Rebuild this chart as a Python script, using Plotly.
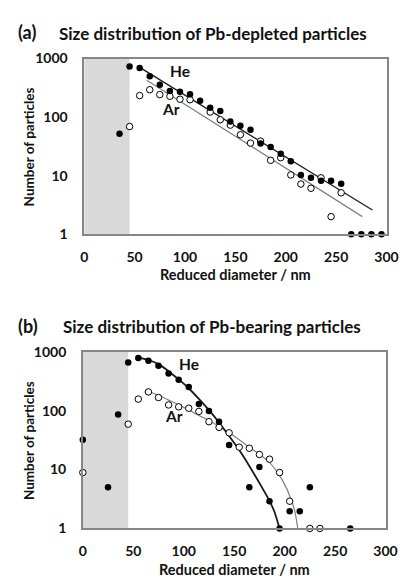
import plotly.graph_objects as go

W, H = 411, 585

# ---------------- data ----------------
# Panel (a): Pb-depleted particles
he_a_x = [35, 45, 55, 65, 75, 85, 95, 105, 115, 125, 135, 145, 155, 165, 175, 185, 195, 205, 215, 225, 235, 245, 255, 265, 275, 285, 295]
he_a_y = [52, 731, 686, 500, 355, 279, 271, 245, 190, 144, 127, 84, 71, 61, 35.6, 31, 23.7, 17.6, 10.3, 9.2, 8.2, 8.2, 7.3, 1, 1, 1, 1]
ar_a_x = [45, 55, 65, 75, 85, 95, 105, 125, 135, 145, 155, 165, 175, 185, 195, 205, 215, 225, 235, 245, 255]
ar_a_y = [69, 233, 293, 242, 227, 202, 198, 122, 90, 73, 50, 36, 39, 18.3, 20.3, 10.3, 7.2, 6.1, 9.2, 2.0, 5.1]
fit_he_a_x = [55, 286]
fit_he_a_y = [705, 2.6]
fit_ar_a_x = [62, 276]
fit_ar_a_y = [427, 2.0]

# Panel (b): Pb-bearing particles
he_b_x = [0, 25, 35, 45, 55, 65, 75, 85, 95, 105, 115, 125, 135, 145, 165, 175, 185, 195, 205, 215, 225, 265]
he_b_y = [32, 5, 86, 656, 784, 700, 579, 427, 336, 251, 130, 99, 65, 26, 5, 11, 2.9, 1, 1.95, 1.95, 5, 1]
ar_b_x = [0, 45, 55, 65, 75, 85, 95, 105, 115, 125, 135, 145, 155, 165, 175, 185, 195, 205, 225, 235]
ar_b_y = [8.9, 59, 157, 208, 167, 125, 116, 110, 97, 65, 52, 42, 24, 23, 18, 15, 8.9, 2.9, 1, 1]
fit_he_b_x = [55, 65, 75, 85, 95, 105, 115, 125, 135, 145, 155, 165, 175, 185, 190, 195]
fit_he_b_y = [794, 724, 617, 468, 339, 240, 158, 102, 63, 37, 21.4, 11.5, 5.9, 2.95, 1.9, 1.0]
fit_ar_b_x = [65, 75, 85, 95, 105, 115, 125, 135, 145, 155, 165, 175, 185, 195, 200, 205, 210, 213]
fit_ar_b_y = [214, 182, 151, 126, 102, 83, 68, 54, 42, 32, 24, 18.2, 13.2, 7.9, 5.6, 3.6, 2.0, 1.0]

x_ticks = [0, 50, 100, 150, 200, 250, 300]
y_ticks = [1, 10, 100, 1000]
y_tick_text = ["1", "10", "100", "1000"]
shade_end = 45

titles = ["Size distribution of Pb-depleted particles", "Size distribution of Pb-bearing particles"]
panel_labels = ["(a)", "(b)"]
x_title = "Reduced diameter / nm"
y_title = "Number of particles"

# ---------------- layout helpers ----------------
FONT = "Lato"
BLACK = "#000000"
GREY_LINE = "#808080"
AXIS_COL = "#868686"
TXT = "#111111"

def px_x(p):
    return p / W

def px_y(p):
    return 1 - p / H

panels = [
    dict(left=83.5, right=398, top=51, bottom=232, title_y=25, title_x=55, xlabel_y=273),
    dict(left=82, right=397, top=353, bottom=535, title_y=327, title_x=59, xlabel_y=577),
]

fig = go.Figure()

series = [
    (he_a_x, he_a_y, ar_a_x, ar_a_y, fit_he_a_x, fit_he_a_y, fit_ar_a_x, fit_ar_a_y, "x", "y"),
    (he_b_x, he_b_y, ar_b_x, ar_b_y, fit_he_b_x, fit_he_b_y, fit_ar_b_x, fit_ar_b_y, "x2", "y2"),
]

for i, (hx, hy, ax_, ay, fhx, fhy, fax, fay, xa, ya) in enumerate(series):
    fig.add_trace(go.Scatter(x=fax, y=fay, mode="lines", xaxis=xa, yaxis=ya,
                             line=dict(color=GREY_LINE, width=1.2, shape="spline", smoothing=0.5),
                             showlegend=False, hoverinfo="skip"))
    fig.add_trace(go.Scatter(x=fhx, y=fhy, mode="lines", xaxis=xa, yaxis=ya,
                             line=dict(color="#1a1a1a", width=1.3 if i == 0 else 1.8, shape="spline", smoothing=0.5),
                             showlegend=False, hoverinfo="skip"))
    fig.add_trace(go.Scatter(x=ax_, y=ay, mode="markers", xaxis=xa, yaxis=ya, cliponaxis=False,
                             marker=dict(size=6.5, color="white", line=dict(color=BLACK, width=1)),
                             showlegend=False))
    fig.add_trace(go.Scatter(x=hx, y=hy, mode="markers", xaxis=xa, yaxis=ya, cliponaxis=False,
                             marker=dict(size=6.5, color=BLACK, line=dict(color=BLACK, width=0)),
                             showlegend=False))

tickfont = dict(family=FONT, size=14, color=TXT, weight="bold")
layout = dict(
    width=W, height=H,
    margin=dict(l=0, r=0, t=0, b=0),
    paper_bgcolor="white", plot_bgcolor="white",
    showlegend=False,
    font=dict(family=FONT),
)

annotations = []
shapes = []
for i, p in enumerate(panels):
    sx = "" if i == 0 else "2"
    layout["xaxis" + sx] = dict(
        domain=[px_x(p["left"]), px_x(p["right"])],
        anchor="y" + sx, range=[0, 300], tickvals=x_ticks,
        showgrid=False, zeroline=False, showline=True, mirror=True,
        linecolor=AXIS_COL, linewidth=1.5,
        ticks="outside", ticklen=9, tickcolor="rgba(0,0,0,0)",
        tickfont=tickfont,
    )
    layout["yaxis" + sx] = dict(
        domain=[px_y(p["bottom"]), px_y(p["top"])],
        anchor="x" + sx, type="log", range=[0, 3],
        tickvals=y_ticks, ticktext=y_tick_text,
        showgrid=False, zeroline=False, showline=True, mirror=True,
        linecolor=AXIS_COL, linewidth=1.5,
        ticks="outside", ticklen=12, tickcolor="rgba(0,0,0,0)",
        tickfont=tickfont,
    )
    shapes.append(dict(type="rect", xref="x" + sx, yref="y" + sx + " domain",
                       x0=0, x1=shade_end, y0=0, y1=1, layer="below",
                       fillcolor="#d9d9d9", line=dict(width=0)))
    annotations.append(dict(text=panel_labels[i], xref="paper", yref="paper",
                            x=px_x(13), y=px_y(p["title_y"] - 1), xanchor="left", yanchor="middle",
                            showarrow=False, font=dict(family=FONT, size=18, color=TXT, weight="bold")))
    annotations.append(dict(text=titles[i], xref="paper", yref="paper",
                            x=px_x(p["title_x"]), y=px_y(p["title_y"]), xanchor="left", yanchor="middle",
                            showarrow=False, font=dict(family=FONT, size=17, color=TXT, weight="bold")))
    annotations.append(dict(text=x_title, xref="paper", yref="paper",
                            x=px_x((p["left"] + p["right"]) / 2), y=px_y(p["xlabel_y"]),
                            xanchor="center", yanchor="middle", showarrow=False,
                            font=dict(family=FONT, size=14.5, color=TXT, weight="bold")))
    annotations.append(dict(text=y_title, xref="paper", yref="paper", textangle=-90,
                            x=px_x(26), y=px_y((p["top"] + p["bottom"]) / 2),
                            xanchor="center", yanchor="middle", showarrow=False,
                            font=dict(family=FONT, size=13.5, color=TXT, weight="bold")))

# Series labels inside the plots (data coordinates; log axis uses log10 units)
series_labels = [
    ("He", 83, 2.78, "x", "y"), ("Ar", 75, 2.14, "x", "y"),
    ("He", 93, 2.785, "x2", "y2"), ("Ar", 79, 1.906, "x2", "y2"),
]
for txt, lx, ly, xa, ya in series_labels:
    annotations.append(dict(text=txt, xref=xa, yref=ya, x=lx, y=ly, xanchor="left", yanchor="middle",
                            showarrow=False, font=dict(family=FONT, size=15.5, color=TXT, weight="bold")))

layout["annotations"] = annotations
layout["shapes"] = shapes
fig.update_layout(**layout)

fig.write_html("out.html", config={"displayModeBar": False},
               post_script="document.body.style.margin='0';")
